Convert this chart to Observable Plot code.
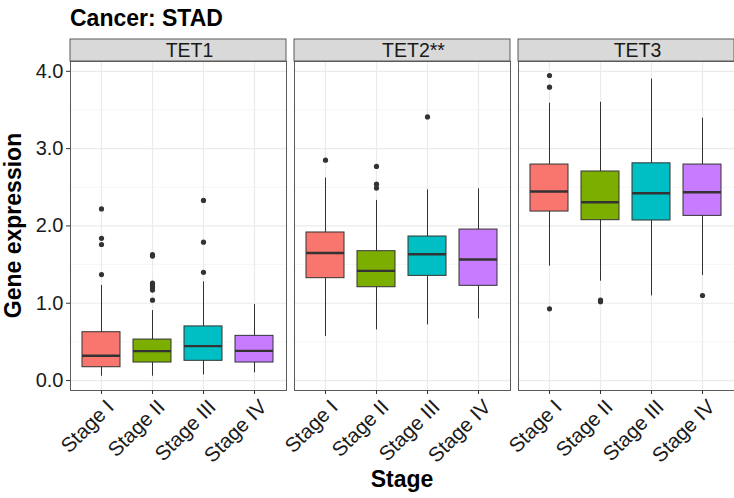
<!DOCTYPE html>
<html>
<head>
<meta charset="utf-8">
<script src="https://cdn.jsdelivr.net/npm/d3@7"></script>
<script src="https://cdn.jsdelivr.net/npm/@observablehq/plot@0.6"></script>
<style>
  body { margin: 0; background: #fff; }
  #wrap { position: relative; width: 734px; height: 498px; overflow: hidden; font-family: "Liberation Sans", Arial, sans-serif; }
  #title { position: absolute; left: 70px; top: 7px; font-size: 23px; line-height: 23px; font-weight: bold; color: #000; white-space: nowrap; }
  #chart { position: absolute; left: 0; top: 39px; }
</style>
</head>
<body>
<div id="wrap">
  <div id="title">Cancer: STAD</div>
  <div id="chart"></div>
</div>
<script>
// ---- data ----
const genes = ["TET1", "TET2**", "TET3"];
const stages = ["Stage I", "Stage II", "Stage III", "Stage IV"];
const stageColors = ["#F8766D", "#7CAE00", "#00BFC4", "#C77CFF"];
const yTicks = [0, 1, 2, 3, 4];
const yMinorTicks = [0.5, 1.5, 2.5, 3.5];

// one row per gene, one value per stage
const whiskerLow = [
  [0.056, 0.056, 0.073, 0.099],
  [0.57, 0.655, 0.72, 0.798],
  [1.479, 1.285, 1.095, 1.358]
];
const quartile1 = [
  [0.172, 0.233, 0.255, 0.233],
  [1.324, 1.207, 1.354, 1.225],
  [2.186, 2.074, 2.07, 2.13]
];
const medians = [
  [0.32, 0.38, 0.445, 0.384],
  [1.65, 1.419, 1.634, 1.565],
  [2.445, 2.307, 2.423, 2.436]
];
const quartile3 = [
  [0.625, 0.53, 0.70, 0.578],
  [1.915, 1.673, 1.863, 1.953],
  [2.794, 2.704, 2.81, 2.794]
];
const whiskerHigh = [
  [1.23, 0.905, 1.277, 0.983],
  [2.62, 2.33, 2.467, 2.48],
  [3.587, 3.60, 3.90, 3.393]
];
const outlierValues = [
  [[2.22, 1.84, 1.76, 1.37], [1.63, 1.61, 1.26, 1.23, 1.20, 1.17, 1.04], [2.33, 1.79, 1.40], []],
  [[2.85], [2.77, 2.54, 2.49], [3.41], []],
  [[3.946, 3.795, 0.927], [1.04, 1.02], [], [1.10]]
];

// ---- tables built from the arrays ----
const boxes = genes.flatMap((g, i) => stages.map((s, j) => ({
  gene: g, stage: s,
  lo: whiskerLow[i][j], q1: quartile1[i][j], median: medians[i][j],
  q3: quartile3[i][j], hi: whiskerHigh[i][j]
})));
const outliers = genes.flatMap((g, i) => stages.flatMap((s, j) =>
  outlierValues[i][j].map(v => ({gene: g, stage: s, value: v}))));

// ---- layout ----
const yDomain = [-0.129, 4.127];
const marginTop = 22, marginBottom = 108, height = 459;
const panelH = height - marginTop - marginBottom;
const stripTop = yDomain[1] + marginTop * (yDomain[1] - yDomain[0]) / panelH;
const ink = "#333333";
const border = "#5a5a5a";

const plot = Plot.plot({
  width: 734,
  height,
  marginTop,
  marginBottom,
  marginLeft: 70,
  marginRight: 0,
  style: {fontFamily: "'Liberation Sans', Arial, sans-serif", fontSize: "20px", color: "#1a1a1a", background: "white", overflow: "visible"},
  fx: {domain: genes, paddingInner: 0.037, paddingOuter: 0, axis: null, label: null},
  x: {domain: stages, paddingInner: 0.25, paddingOuter: 0.225, label: null},
  y: {domain: yDomain, label: null},
  color: {domain: stages, range: stageColors},
  marks: [
    Plot.gridY(yMinorTicks, {stroke: "#F0F0F0", strokeOpacity: 1, strokeWidth: 0.7}),
    Plot.gridY(yTicks, {stroke: "#EBEBEB", strokeOpacity: 1, strokeWidth: 1.2}),
    Plot.gridX(stages, {stroke: "#EBEBEB", strokeOpacity: 1, strokeWidth: 1.2}),
    Plot.ruleX(boxes, {fx: "gene", x: "stage", y1: "lo", y2: "hi", stroke: ink, strokeWidth: 1}),
    Plot.barY(boxes, {fx: "gene", x: "stage", y1: "q1", y2: "q3", fill: "stage", stroke: ink, strokeWidth: 1}),
    Plot.tickY(boxes, {fx: "gene", x: "stage", y: "median", stroke: ink, strokeWidth: 2.4}),
    Plot.dot(outliers, {fx: "gene", x: "stage", y: "value", r: 2.6, fill: ink, stroke: "none"}),
    Plot.frame({stroke: border, strokeWidth: 1}),
    Plot.rect(genes, {fx: d => d, y1: yDomain[1], y2: stripTop, fill: "#D9D9D9", stroke: border, strokeWidth: 1}),
    Plot.text(genes, {fx: d => d, text: d => d, frameAnchor: "top", lineAnchor: "middle", dx: 11, dy: -10.5, fontSize: 19.5, fill: "#1a1a1a"}),
    Plot.axisY({ticks: yTicks, tickFormat: d3.format(".1f"), tickSize: 4, tickPadding: 3, label: null, fontSize: 20, stroke: ink}),
    Plot.axisX({tickSize: 4, tickFormat: () => "", label: null, stroke: ink}),
    Plot.axisX({tickRotate: -45, tickSize: 0, tickPadding: 4, label: null, fontSize: 20.5, dx: 9, dy: 9})
  ]
});

const svg = d3.select(plot);
svg.append("text")
  .attr("transform", `translate(20.5,${marginTop + panelH / 2}) rotate(-90)`)
  .attr("text-anchor", "middle")
  .attr("font-weight", "bold")
  .attr("font-size", 23)
  .attr("fill", "#000")
  .text("Gene expression");
svg.append("text")
  .attr("x", 402)
  .attr("y", 447.5)
  .attr("text-anchor", "middle")
  .attr("font-weight", "bold")
  .attr("font-size", 23)
  .attr("fill", "#000")
  .text("Stage");

document.getElementById("chart").appendChild(plot);
</script>
</body>
</html>
